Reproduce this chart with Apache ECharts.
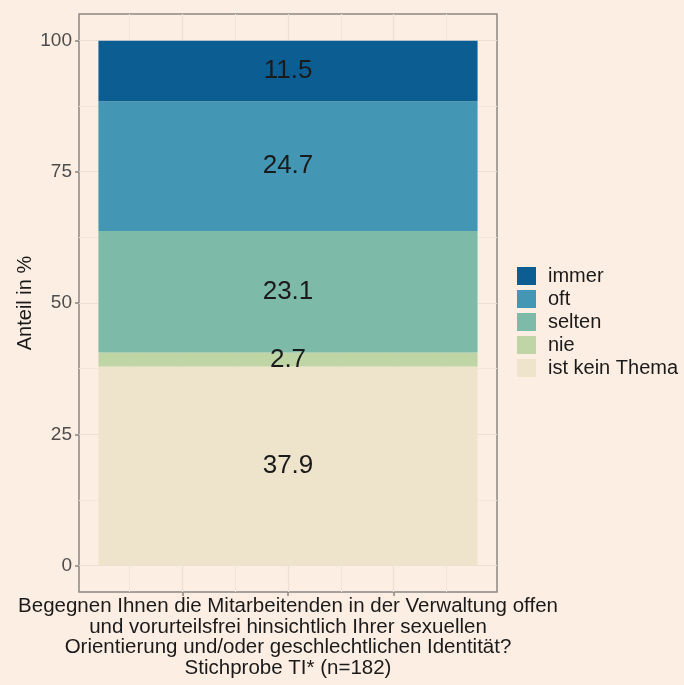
<!DOCTYPE html>
<html>
<head>
<meta charset="utf-8">
<script src="https://cdn.jsdelivr.net/npm/echarts@6/dist/echarts.min.js"></script>
<style>
  html, body { margin: 0; padding: 0; background: #fdeee3; }
  #chart { width: 684px; height: 685px; }
</style>
</head>
<body>
<div id="chart"></div>
<script>
// Daten (von unten nach oben gestapelt)
var categories = ["Stichprobe TI*"];
var seriesNames = ["ist kein Thema", "nie", "selten", "oft", "immer"];
var values = [37.9, 2.7, 23.1, 24.7, 11.5];
var legendOrder = ["immer", "oft", "selten", "nie", "ist kein Thema"];
var yTicks = [0, 25, 50, 75, 100];
var yMinorTicks = [12.5, 37.5, 62.5, 87.5];
var xTicks = [0.75, 1, 1.25];
var xMinorTicks = [0.625, 0.875, 1.125, 1.375];
var xTitle = "Begegnen Ihnen die Mitarbeitenden in der Verwaltung offen\nund vorurteilsfrei hinsichtlich Ihrer sexuellen\nOrientierung und/oder geschlechtlichen Identität?\nStichprobe TI* (n=182)";

var palette = ["#ede4cb", "#bfd5a5", "#7dbba8", "#4396b4", "#0c5e92"];
var font = "Liberation Sans";

var myChart = echarts.init(document.getElementById("chart"));

var series = [];
for (var i = 0; i < seriesNames.length; i++) {
  series.push({
    name: seriesNames[i],
    type: "bar",
    stack: "total",
    xAxisIndex: 0,
    yAxisIndex: 0,
    barWidth: "90.7%",
    itemStyle: { color: palette[i] },
    label: {
      show: true,
      position: "inside",
      fontFamily: font,
      fontSize: 26,
      color: "#1a1a1a",
      formatter: function (p) { return p.value.toFixed(1); }
    },
    data: [values[i]]
  });
}

var option = {
  backgroundColor: "#fdeee3",
  animation: false,
  textStyle: { fontFamily: font },
  grid: {
    left: 79,
    right: 187,
    top: 14,
    bottom: 93,
    show: true,
    borderColor: "#8c8682",
    borderWidth: 1.5,
    backgroundColor: "transparent"
  },
  legend: {
    data: legendOrder,
    orient: "vertical",
    left: 517,
    top: 266,
    padding: 0,
    itemWidth: 19,
    itemHeight: 18,
    itemGap: 3,
    icon: "rect",
    selectedMode: false,
    textStyle: {
      fontFamily: font,
      fontSize: 20,
      color: "#1a1a1a",
      padding: [0, 0, 0, 7]
    }
  },
  xAxis: [
    {
      type: "category",
      data: categories,
      axisLine: { show: false, onZero: false },
      axisTick: { show: false },
      axisLabel: { show: false },
      splitLine: { show: false }
    },
    {
      type: "value",
      min: 0.505,
      max: 1.495,
      position: "bottom",
      axisLine: { show: false, onZero: false },
      axisTick: {
        show: true,
        customValues: xTicks,
        length: 4,
        lineStyle: { color: "#8c8682", width: 1.5 }
      },
      axisLabel: { show: false, customValues: xTicks },
      splitLine: { show: true, lineStyle: { color: "#ebe0d6", width: 1.2 } },
      name: xTitle,
      nameLocation: "middle",
      nameGap: 4,
      nameTextStyle: {
        fontFamily: font,
        fontSize: 20.5,
        lineHeight: 20.7,
        color: "#1a1a1a",
        align: "center",
        verticalAlign: "top"
      }
    },
    {
      type: "value",
      min: 0.505,
      max: 1.495,
      position: "bottom",
      axisLine: { show: false, onZero: false },
      axisTick: { show: false, customValues: xMinorTicks },
      axisLabel: { show: false, customValues: xMinorTicks },
      splitLine: { show: true, lineStyle: { color: "#f2e5da", width: 1 } }
    }
  ],
  yAxis: [
    {
      type: "value",
      min: -5,
      max: 105,
      axisLine: { show: false, onZero: false },
      axisTick: {
        show: true,
        customValues: yTicks,
        length: 4,
        lineStyle: { color: "#8c8682", width: 1.5 }
      },
      axisLabel: {
        customValues: yTicks,
        fontFamily: font,
        fontSize: 19,
        color: "#4d4d4d",
        margin: 7
      },
      splitLine: { show: true, lineStyle: { color: "#ebe0d6", width: 1.2 } },
      name: "Anteil in %",
      nameLocation: "middle",
      nameGap: 44,
      nameMoveOverlap: false,
      nameTextStyle: { fontFamily: font, fontSize: 20, color: "#1a1a1a" }
    },
    {
      type: "value",
      min: -5,
      max: 105,
      position: "left",
      axisLine: { show: false, onZero: false },
      axisTick: { show: false, customValues: yMinorTicks },
      axisLabel: { show: false, customValues: yMinorTicks },
      splitLine: { show: true, lineStyle: { color: "#f2e5da", width: 1 } }
    }
  ],
  series: series
};

myChart.setOption(option);
</script>
</body>
</html>
